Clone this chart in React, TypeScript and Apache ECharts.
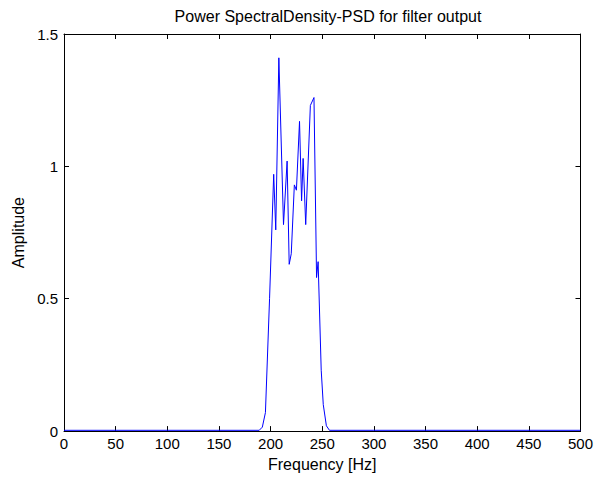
import React, { useEffect, useRef } from "react";
import * as echarts from "echarts";

const freqs: number[] = [0, 100, 189, 192, 195, 199, 203, 205, 208, 212.5, 216, 218, 220, 223, 225, 228, 230, 231.5, 234, 238.5, 242, 244.5, 246, 249, 251, 254, 257, 300, 400, 500];
const amps: number[] = [0.003, 0.003, 0.003, 0.015, 0.07, 0.5, 0.97, 0.76, 1.41, 0.78, 1.02, 0.63, 0.67, 0.93, 0.91, 1.17, 0.87, 1.03, 0.78, 1.23, 1.26, 0.58, 0.64, 0.23, 0.1, 0.02, 0.003, 0.003, 0.003, 0.003];
const xTicks = { min: 0, max: 500, interval: 50 };
const yTicks = { min: 0, max: 1.5, interval: 0.5 };
const titleText = "Power SpectralDensity-PSD for filter output";
const xName = "Frequency [Hz]";
const yName = "Amplitude";

const FONT = "Arial, 'Liberation Sans', Helvetica, sans-serif";
const FS = 15;

export default function App() {
  const ref = useRef<HTMLDivElement>(null);
  useEffect(() => {
    if (!ref.current) return;
    const chart = echarts.init(ref.current, null, { renderer: "svg" });
    const data = freqs.map((f, i) => [f, amps[i]]);
    const axisLine = { show: true, onZero: false, lineStyle: { color: "#000", width: 1 } };
    const tick = { show: true, inside: true, length: 5, lineStyle: { color: "#000" } };
    chart.setOption({
      animation: false,
      backgroundColor: "#fff",
      title: {
        text: titleText,
        left: 323,
        textAlign: "center",
        top: 3,
        textStyle: { fontFamily: FONT, fontSize: 16, fontWeight: "normal", color: "#000" },
      },
      grid: { left: 64, right: 13, top: 34, bottom: 44, containLabel: false },
      xAxis: [
        {
          type: "value",
          min: xTicks.min,
          max: xTicks.max,
          interval: xTicks.interval,
          position: "bottom",
          name: xName,
          nameLocation: "middle",
          nameGap: 24,
          nameTextStyle: { fontFamily: FONT, fontSize: 16, color: "#000" },
          axisLine,
          axisTick: tick,
          axisLabel: { fontFamily: FONT, fontSize: FS, color: "#000", margin: 5 },
          splitLine: { show: false },
        },
        {
          type: "value",
          min: xTicks.min,
          max: xTicks.max,
          interval: xTicks.interval,
          position: "top",
          axisLine,
          axisTick: tick,
          axisLabel: { show: false },
          splitLine: { show: false },
        },
      ],
      yAxis: [
        {
          type: "value",
          min: yTicks.min,
          max: yTicks.max,
          interval: yTicks.interval,
          position: "left",
          name: yName,
          nameLocation: "middle",
          nameGap: 38,
          nameTextStyle: { fontFamily: FONT, fontSize: 16, color: "#000" },
          axisLine,
          axisTick: tick,
          axisLabel: { fontFamily: FONT, fontSize: FS, color: "#000", margin: 6, formatter: (v: number) => String(v) },
          splitLine: { show: false },
        },
        {
          type: "value",
          min: yTicks.min,
          max: yTicks.max,
          interval: yTicks.interval,
          position: "right",
          axisLine,
          axisTick: tick,
          axisLabel: { show: false },
          splitLine: { show: false },
        },
      ],
      series: [
        {
          type: "line",
          data,
          xAxisIndex: 0,
          yAxisIndex: 0,
          showSymbol: false,
          symbol: "none",
          lineStyle: { color: "#0000ff", width: 1 },
          z: 5,
        },
      ],
    });
    return () => chart.dispose();
  }, []);
  return (
    <div
      ref={ref}
      style={{ position: "fixed", left: 0, top: 0, width: 596, height: 477, background: "#fff" }}
    />
  );
}
